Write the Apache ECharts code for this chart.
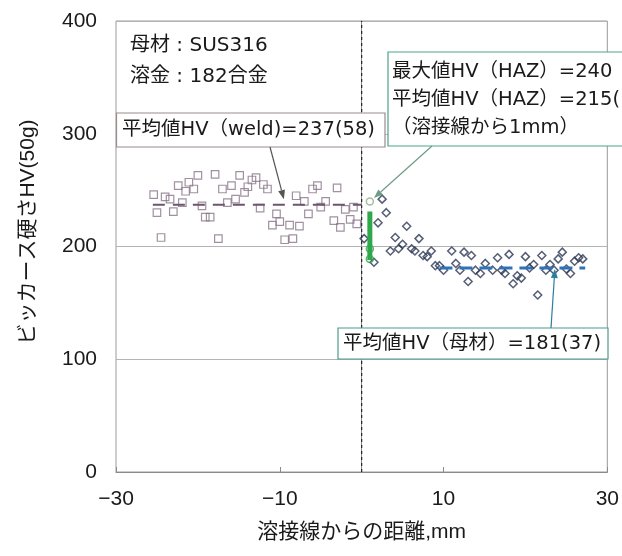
<!DOCTYPE html>
<html>
<head>
<meta charset="utf-8">
<script src="https://cdn.jsdelivr.net/npm/echarts/dist/echarts.min.js"></script>
<style>
  html, body { margin: 0; padding: 0; background: #fff; }
  #chart { width: 622px; height: 556px; }
</style>
</head>
<body>
<div id="chart"></div>
<script>
// Vickers hardness profile across a weld: distance from weld line (mm) vs HV(50g)

// weld metal (182 alloy), left of the weld line
const weldX  = [-25.4,-25.0,-24.5,-24.0,-23.4,-23.0,-22.4,-21.9,-21.5,-21.1,-20.5,-20.0,-19.5,-19.1,-18.5,-17.9,-17.5,-17.0,-16.4,-15.9,-15.4,-14.9,-14.3,-13.9,-13.4,-12.9,-12.4,-12.0,-11.5,-10.9,-10.4,-10.0,-9.4,-8.8,-8.4,-8.0,-7.6,-7.0,-6.5,-6.0,-5.4,-5.0,-4.4,-3.4,-3.0,-2.6,-2.0,-1.4,-1.0,-0.6];
const weldHV = [246,230,208,244,242,231,254,239,249,257,251,263,236,226,226,264,207,251,239,254,242,263,248,253,259,261,234,255,251,219,229,222,206,219,207,245,218,240,229,251,254,235,240,223,252,217,233,224,235,220];

// HAZ, 1 mm from the weld line
const hazX = 1;
const hazRange = [188, 231];
const hazOpenHV = [198, 189];
const hazMaxHV = 240;

// base metal (SUS316), right of the weld line
const baseX  = [0.3,1.5,2.0,2.5,3.0,3.5,4.1,4.5,5.0,5.5,6.1,6.5,7.0,7.5,8.0,8.5,9.0,9.5,10.0,11.0,11.5,12.0,12.5,13.0,13.4,13.9,14.5,15.1,16.0,16.6,17.1,17.5,18.0,18.5,19.0,19.5,20.0,20.5,21.0,21.5,22.0,22.5,23.0,23.5,24.0,24.5,25.0,25.5,26.0,26.5,27.0];
const baseHV = [207,186,221,242,230,196,208,198,202,218,198,196,207,192,191,196,183,183,179,196,185,179,195,169,192,179,176,185,179,190,179,176,193,167,174,172,191,181,184,157,192,179,184,179,189,195,180,176,187,190,189];

// mean values and the spans their dashed lines cover
const weldMean = 237;
const weldMeanSpan = [-25.5, 0];
const baseMean = 181;
const baseMeanSpan = [9.5, 27.3];

// axes
const xMin = -30, xMax = 30, xStep = 20;
const yMin = 0, yMax = 400, yStep = 100;

const FONT_NUM = "'Liberation Sans', Arial, sans-serif";
const FONT_TXT = "'DejaVu Sans', 'Noto Sans CJK JP', sans-serif";
const FONT_JP  = "'Liberation Sans', 'Noto Sans CJK JP', sans-serif";

const chart = echarts.init(document.getElementById('chart'), null, { renderer: 'canvas' });

const zip = (xs, ys) => xs.map((x, i) => [x, ys[i]]);

chart.setOption({
  animation: false,
  backgroundColor: '#fff',
  grid: {
    left: 116, right: 9, top: 21, bottom: 84,
    show: true, borderColor: '#9a9a9a', borderWidth: 1, backgroundColor: '#fff'
  },
  xAxis: {
    type: 'value', min: xMin, max: xMax, interval: xStep,
    axisLine: { show: true, lineStyle: { color: '#8a8a8a', width: 1 } },
    axisTick: { show: true, inside: true, length: 5, lineStyle: { color: '#8a8a8a' } },
    splitLine: { show: false },
    axisLabel: {
      margin: 17, fontSize: 21, color: '#1a1a1a', fontFamily: FONT_NUM,
      formatter: v => v < 0 ? '\u2212' + Math.abs(v) : String(v)
    },
    name: '溶接線からの距離,mm', nameLocation: 'middle', nameGap: 50,
    nameTextStyle: { fontSize: 21, color: '#1a1a1a', fontFamily: FONT_JP }
  },
  yAxis: {
    type: 'value', min: yMin, max: yMax, interval: yStep,
    axisLine: { show: true, lineStyle: { color: '#8a8a8a', width: 1 } },
    axisTick: { show: false },
    splitLine: { show: true, lineStyle: { color: '#b4b4b4', width: 1 } },
    axisLabel: { margin: 19, fontSize: 21, color: '#1a1a1a', fontFamily: FONT_NUM }
  },
  series: [
    {
      name: 'weld line', type: 'line', silent: true, symbol: 'none',
      data: [[0, yMin], [0, yMax]],
      lineStyle: { color: '#222', width: 1.2, type: [3, 3] }, z: 1
    },
    {
      name: 'weld', type: 'scatter', symbol: 'rect', symbolSize: 7.5,
      data: zip(weldX, weldHV),
      itemStyle: { color: 'rgba(255,255,255,0)', borderColor: '#8a7688', borderWidth: 1.2 }, z: 3
    },
    {
      name: 'weld mean', type: 'line', symbol: 'none',
      data: weldMeanSpan.map(x => [x, weldMean]),
      lineStyle: { color: '#6e5470', width: 2, type: [12, 8] }, z: 4
    },
    {
      name: 'base', type: 'scatter', symbol: 'diamond', symbolSize: 8,
      data: zip(baseX, baseHV),
      itemStyle: { color: 'rgba(255,255,255,0)', borderColor: '#2b3653', borderWidth: 1.5 }, z: 3
    },
    {
      name: 'base mean', type: 'line', symbol: 'none',
      data: baseMeanSpan.map(x => [x, baseMean]),
      lineStyle: { color: '#2f72b8', width: 3, type: [13, 7] }, z: 4
    },
    {
      name: 'HAZ range', type: 'line', symbol: 'none',
      data: hazRange.map(v => [hazX, v]),
      lineStyle: { color: '#2ea84a', width: 5, cap: 'butt' }, z: 5
    },
    {
      name: 'HAZ', type: 'scatter', symbol: 'circle', symbolSize: 7,
      data: hazOpenHV.map(v => [hazX, v]),
      itemStyle: { color: 'rgba(255,255,255,0)', borderColor: '#2ea84a', borderWidth: 1.5 }, z: 6
    },
    {
      name: 'HAZ max', type: 'scatter', symbol: 'circle', symbolSize: 7,
      data: [[hazX, hazMaxHV]],
      itemStyle: { color: 'rgba(255,255,255,0)', borderColor: '#8fae8f', borderWidth: 1.5 }, z: 6
    }
  ]
});

// annotation arrows point at data positions
function px(p) { return chart.convertToPixel({ gridIndex: 0 }, p); }
function arrow(from, to, color) {
  const dx = to[0] - from[0], dy = to[1] - from[1];
  const len = Math.hypot(dx, dy), ux = dx / len, uy = dy / len;
  const hl = 9, hw = 3.5;
  const bx = to[0] - ux * hl, by = to[1] - uy * hl;
  return [
    { type: 'line', z: 120, shape: { x1: from[0], y1: from[1], x2: bx, y2: by },
      style: { stroke: color, lineWidth: 1.2 } },
    { type: 'polygon', z: 120, shape: { points: [to, [bx - uy * hw, by + ux * hw], [bx + uy * hw, by - ux * hw]] },
      style: { fill: color } }
  ];
}
function box(x, y, w, h, stroke) {
  return { type: 'rect', z: 110, shape: { x: x, y: y, width: w, height: h },
    style: { fill: '#fff', stroke: stroke, lineWidth: 1.2 } };
}
function label(text, x, y, size, font) {
  return { type: 'text', z: 130, x: x, y: y,
    style: { text: text, fontSize: size, fontFamily: font || FONT_TXT, fill: '#1a1a1a', verticalAlign: 'middle', align: 'left' } };
}

const weldTip = px([-9.5, 242]);
const hazTip = px([1.5, 243]);
const baseTip = px([23.6, 180]);

chart.setOption({
  graphic: [
    // y axis title
    { type: 'text', z: 130, x: 28, y: 232, rotation: Math.PI / 2,
      style: { text: 'ビッカース硬さHV(50g)', fontSize: 21, fontFamily: FONT_JP, fill: '#1a1a1a', align: 'center', verticalAlign: 'middle' } },
    label('母材 : SUS316', 130, 46, 20),
    label('溶金 : 182合金', 130, 77, 20),
    box(116.5, 113, 268.5, 34, '#9c8c8c'),
    label('平均値HV（weld)=237(58)', 122, 130, 19.5),
    box(388, 52, 260, 94, '#4aa58a'),
    label('最大値HV（HAZ）=240', 392, 72, 19.5),
    label('平均値HV（HAZ）=215(', 392, 100, 19.5),
    label('（溶接線から1mm）', 392, 128, 19.5),
    box(338, 328, 270, 31, '#4e9c8c'),
    label('平均値HV（母材）=181(37)', 343, 344, 19.5),
    ...arrow([270, 147], weldTip, '#555'),
    ...arrow([432, 146], hazTip, '#6f9c86'),
    ...arrow([551, 328], baseTip, '#2a7f9e')
  ]
});
</script>
</body>
</html>
